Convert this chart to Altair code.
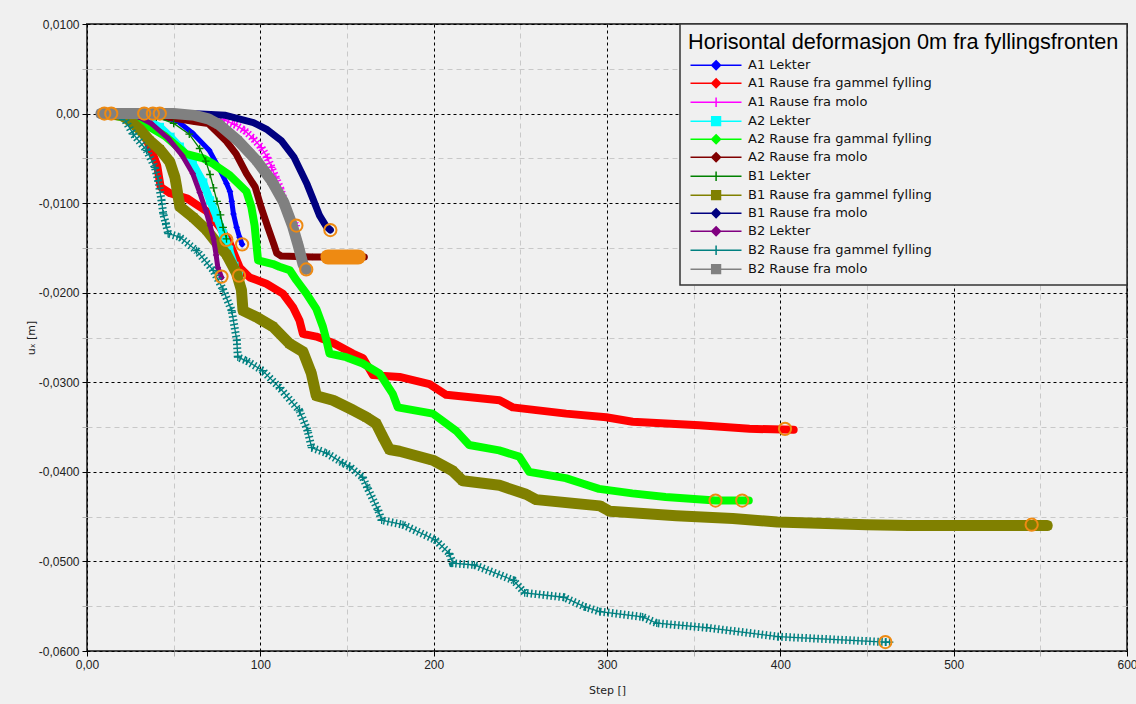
import altair as alt
import pandas as pd

# ---- measured horizontal displacement u_x [m] against calculation step ----
A1_LEKTER_STEP = [10, 25, 40, 52, 61, 70.5, 76.5, 80.5, 82.5, 83.5, 84.5, 86.3, 88, 89.5]
A1_LEKTER_UX = [0, 0, -0.0002, -0.0008, -0.0022, -0.0041, -0.0062, -0.0078, -0.0087, -0.0098, -0.0112, -0.0127, -0.0138, -0.0146]

A1_GAMMEL_STEP = [10, 20, 29.5, 34.5, 38, 40.5, 41.5, 42.5, 48, 58, 65, 69, 76.7, 82.4, 88.1, 93.9, 103.5, 113, 118.8,
                  122.6, 124.6, 132.3, 141.9, 153.4, 159.2, 165, 180.3, 197.6, 207.2, 238, 245.6, 276.4, 299.5, 314.8,
                  353.3, 382.2, 407.7]
A1_GAMMEL_UX = [0, -0.0002, -0.0013, -0.003, -0.0045, -0.0058, -0.007, -0.0082, -0.0089, -0.0095, -0.0104, -0.0109,
                -0.0127, -0.0145, -0.0172, -0.0183, -0.019, -0.0201, -0.0216, -0.0231, -0.0246, -0.0249, -0.0256,
                -0.0268, -0.0273, -0.0292, -0.0294, -0.0302, -0.0314, -0.032, -0.0328, -0.0335, -0.0339, -0.0344,
                -0.0348, -0.0352, -0.0353]

A1_MOLO_STEP = [10, 30, 60, 79, 85, 91, 96, 100.6, 104, 106.4, 109, 111.6, 113.5, 115, 117, 118.4, 120.6]
A1_MOLO_UX = [0, 0, -0.0001, -0.0007, -0.0012, -0.0019, -0.0028, -0.0038, -0.0049, -0.006, -0.0072, -0.0084, -0.0096,
              -0.0106, -0.0115, -0.0121, -0.0125]

A2_LEKTER_STEP = [10, 30, 42, 48, 53.5, 61, 67, 71, 75, 78.5, 82, 85, 87.5]
A2_LEKTER_UX = [0, -0.0003, -0.0015, -0.0026, -0.0037, -0.0056, -0.0077, -0.0097, -0.0116, -0.0134, -0.0152, -0.017,
                -0.0181]

A2_GAMMAL_STEP = [10, 30, 45, 57, 67, 72.7, 82.4, 92, 94.8, 96.7, 97.7, 98.7, 107.3, 111, 117, 120.8, 126.6, 132.3,
                  136.1, 138, 139.9, 149.5, 159.1, 168.7, 176.4, 179.3, 199.5, 212.9, 220.5, 237.8, 249.4, 255.1,
                  276.2, 285.8, 295.4, 314.6, 333.8, 362.6, 381.8]
A2_GAMMAL_UX = [0, -0.0008, -0.0025, -0.0045, -0.005, -0.0056, -0.0069, -0.0087, -0.0104, -0.0125, -0.0145, -0.0164,
                -0.0168, -0.0171, -0.0175, -0.0186, -0.0201, -0.0218, -0.0238, -0.0252, -0.0268, -0.0272, -0.0279,
                -0.029, -0.0313, -0.0328, -0.0335, -0.0354, -0.037, -0.0376, -0.0383, -0.04, -0.0407, -0.0413,
                -0.0419, -0.0424, -0.0428, -0.0432, -0.0432]

A2_MOLO_STEP = [10, 30, 50, 62, 70, 80, 86, 92, 97, 100.5, 104.5, 107.8, 109.5, 112, 130, 160]
A2_MOLO_UX = [0, 0, -0.0005, -0.0009, -0.0011, -0.003, -0.0045, -0.0067, -0.0082, -0.0105, -0.0128, -0.0146, -0.0156,
              -0.0159, -0.016, -0.016]

B1_LEKTER_STEP = [10, 25, 40, 50, 59, 65, 68.5, 71, 73, 75, 77, 78.5, 80.5]
B1_LEKTER_UX = [0, 0, -0.0004, -0.0011, -0.0023, -0.0039, -0.0053, -0.0068, -0.0083, -0.0098, -0.0113, -0.0127, -0.014]

B1_GAMMEL_STEP = [10, 20, 24.8, 30.6, 36, 42, 47.8, 50.7, 51.7, 52.6, 53.6, 61.3, 69, 76.7, 80.4, 86.2, 89.1, 90, 97.7,
                  107.3, 116.9, 124.6, 129.4, 132.3, 141.9, 153.4, 161.1, 166.8, 170.7, 174.5, 180.3, 199.5, 211,
                  216.8, 237.9, 253.3, 259.1, 295.9, 301.6, 340, 372.6, 398.2, 449.7, 474, 554]
B1_GAMMEL_UX = [0, -0.0002, -0.0008, -0.0018, -0.003, -0.004, -0.0054, -0.0071, -0.0082, -0.0093, -0.0104, -0.0116,
                -0.013, -0.0149, -0.0157, -0.0178, -0.0197, -0.022, -0.0227, -0.0238, -0.0257, -0.0266, -0.029,
                -0.0315, -0.032, -0.0331, -0.0339, -0.0346, -0.0361, -0.0375, -0.0377, -0.0387, -0.0399, -0.041,
                -0.0415, -0.0425, -0.0431, -0.0438, -0.0444, -0.0449, -0.0452, -0.0456, -0.0459, -0.046, -0.046]

B1_MOLO_STEP = [10, 40, 60, 80, 96, 104, 112, 119.5, 123.5, 127, 130.3, 134.2, 138, 140.4]
B1_MOLO_UX = [0, 0, 0, -0.0002, -0.001, -0.0018, -0.003, -0.0049, -0.0065, -0.0079, -0.0095, -0.0114, -0.0126, -0.013]

B2_LEKTER_STEP = [10, 20, 30, 37, 47, 55, 61, 65, 68.5, 71, 73, 74.5, 75.5, 77.6]
B2_LEKTER_UX = [0, 0, -0.0004, -0.0011, -0.0028, -0.0047, -0.0067, -0.0088, -0.0108, -0.0125, -0.014, -0.0158,
                -0.0172, -0.0183]

B2_GAMMEL_STEP = [10, 15, 20.9, 26.7, 34.4, 39.2, 41.1, 43, 44, 45.5, 46.8, 53.6, 63.2, 72.8, 78.4, 83.5, 86.4, 87,
                  92.1, 101.3, 111.1, 122.6, 127.3, 129.6, 138.2, 147.4, 151.5, 159, 161.6, 168, 170, 182.3, 201,
                  209, 211, 223.5, 246, 252.5, 275, 287.6, 295.8, 320.6, 328.7, 357.5, 398.8, 460.6, 463]
B2_GAMMEL_UX = [0, 0, -0.0004, -0.0023, -0.0041, -0.006, -0.0075, -0.0097, -0.0112, -0.0123, -0.0134, -0.0138,
                -0.0153, -0.0175, -0.0196, -0.022, -0.0253, -0.0272, -0.0276, -0.0287, -0.0306, -0.0332, -0.0354,
                -0.0373, -0.0379, -0.039, -0.0394, -0.0406, -0.0417, -0.0443, -0.0454, -0.0459, -0.0476, -0.0491,
                -0.0502, -0.0504, -0.0521, -0.0535, -0.054, -0.0551, -0.0556, -0.0562, -0.0569, -0.0574, -0.0584,
                -0.059, -0.059]

B2_MOLO_STEP = [8, 30, 50, 62, 70, 76, 87, 97.7, 106.5, 113.5, 118.5, 121.8, 124.6, 126.5]
B2_MOLO_UX = [0, 0, 0, -0.0002, -0.0006, -0.0012, -0.003, -0.0052, -0.0075, -0.0099, -0.0125, -0.0147, -0.0168, -0.0174]

# highlighted points (start / end of each record)
MARK_STEP = [10, 14, 33, 38, 42, 89.5, 402.7, 120.8, 87.7, 362.6, 378, 80.4, 545, 140.4, 77.6, 460.6, 126.5]
MARK_UX = [0, 0, 0, 0, 0, -0.0146, -0.0352, -0.0125, -0.0181, -0.0432, -0.0432, -0.0141, -0.0459, -0.013, -0.0182,
           -0.059, -0.0174]
# run of overlapping highlights on "A2 Rause fra molo"
RUN_START = [139]
RUN_END = [156.5]
RUN_UX = [-0.016]

SERIES_NAMES = ["A1 Lekter", "A1 Rause fra gammel fylling", "A1 Rause fra molo", "A2 Lekter",
                "A2 Rause fra gammal fylling", "A2 Rause fra molo", "B1 Lekter", "B1 Rause fra gammel fylling",
                "B1 Rause fra molo", "B2 Lekter", "B2 Rause fra gammel fylling", "B2 Rause fra molo"]
SERIES_STEPS = [A1_LEKTER_STEP, A1_GAMMEL_STEP, A1_MOLO_STEP, A2_LEKTER_STEP, A2_GAMMAL_STEP, A2_MOLO_STEP,
                B1_LEKTER_STEP, B1_GAMMEL_STEP, B1_MOLO_STEP, B2_LEKTER_STEP, B2_GAMMEL_STEP, B2_MOLO_STEP]
SERIES_UX = [A1_LEKTER_UX, A1_GAMMEL_UX, A1_MOLO_UX, A2_LEKTER_UX, A2_GAMMAL_UX, A2_MOLO_UX,
             B1_LEKTER_UX, B1_GAMMEL_UX, B1_MOLO_UX, B2_LEKTER_UX, B2_GAMMEL_UX, B2_MOLO_UX]

# ---- styling ----
COLORS = ["#0000ff", "#ff0000", "#ff00ff", "#00ffff", "#00ff00", "#800000",
          "#008000", "#808000", "#000080", "#800080", "#008080", "#808080"]
MARKERS = ["diamond", "diamond", "plus", "square", "diamond", "diamond",
           "plus", "square", "diamond", "diamond", "plus", "square"]
# width of the dense marker trail drawn under each line (0 = none)
TRAIL = [5, 8, 8, 8, 8, 7, 0, 11, 7, 5, 8, 11]
MARKER_SIZE = {"diamond": 45, "square": 70, "plus": 60}
ORANGE = "#ee8a12"
PLUS_PATH = "M-1,0H1M0,-1V1"
LEGEND_PATH = {
    "diamond": "M-1,0H11.75M5.4,-1.1L6.5,0L5.4,1.1L4.3,0Z",
    "square": "M-1,0H11.75M4.3,-1.1H6.5V1.1H4.3Z",
    "plus": "M-1,0H11.75M5.4,-1.2V1.2",
}
TICK_FONT = "Liberation Sans"
X_TICKS = [0, 50, 100, 150, 200, 250, 300, 350, 400, 450, 500, 550, 600]
Y_TICKS = [0.01, 0.005, 0, -0.005, -0.01, -0.015, -0.02, -0.025, -0.03, -0.035, -0.04, -0.045, -0.05, -0.055, -0.06]

x_major = "datum.value % 100 == 0"
y_major = "round(datum.value * 200) % 2 == 0"

x_axis = alt.Axis(
    values=X_TICKS, title="Step []", grid=True, domain=False, labelOverlap=False, labelFlush=False,
    labelExpr="datum.value % 100 != 0 ? '' : (datum.value == 0 ? '0,00' : format(datum.value, 'd'))",
    gridColor={"condition": {"test": x_major, "value": "#000000"}, "value": "#c8c8c8"},
    gridDash={"condition": {"test": x_major, "value": [3, 3]}, "value": [5, 4]},
    tickColor={"condition": {"test": x_major, "value": "#000000"}, "value": "#b0b0b0"},
    tickSize=5, labelFont=TICK_FONT, labelFontSize=12, labelColor="#222222", labelPadding=3,
    titleFont="DejaVu Sans", titleFontSize=11, titleFontWeight="normal", titleColor="#222222", titlePadding=14,
)
y_axis = alt.Axis(
    values=Y_TICKS, title="uₓ [m]", grid=True, domain=False, labelOverlap=False, labelFlush=False,
    labelExpr=("round(datum.value * 200) % 2 != 0 ? '' : (datum.value == 0 ? '0,00' : "
               "(datum.value < 0 ? '-' : '') + replace(format(abs(datum.value), '.4f'), '.', ','))"),
    gridColor={"condition": {"test": y_major, "value": "#000000"}, "value": "#c8c8c8"},
    gridDash={"condition": {"test": y_major, "value": [3, 3]}, "value": [5, 4]},
    tickColor={"condition": {"test": y_major, "value": "#000000"}, "value": "#b0b0b0"},
    tickSize=5, labelFont=TICK_FONT, labelFontSize=12, labelColor="#222222", labelPadding=3,
    titleFont="DejaVu Sans", titleFontSize=11, titleFontWeight="normal", titleColor="#222222", titlePadding=2,
)
x_scale = alt.Scale(domain=[0, 600], nice=False, zero=False)
y_scale = alt.Scale(domain=[-0.06, 0.01], nice=False, zero=False)


def xy(xfield="step", yfield="ux"):
    return dict(x=alt.X(f"{xfield}:Q", scale=x_scale, axis=x_axis),
                y=alt.Y(f"{yfield}:Q", scale=y_scale, axis=y_axis))


layers = []
for name, steps, ux, color, marker, trail in zip(SERIES_NAMES, SERIES_STEPS, SERIES_UX, COLORS, MARKERS, TRAIL):
    base = alt.Chart(pd.DataFrame({"step": steps, "ux": ux})).encode(**xy())
    if trail:
        if marker == "plus":
            layers.append(base.mark_line(color=color, strokeWidth=trail, strokeDash=[1.5, 2.5]))
        else:
            layers.append(base.mark_line(color=color, strokeWidth=trail, strokeJoin="round", strokeCap="round"))
    layers.append(base.mark_line(color=color, strokeWidth=1.3))
    if marker == "plus":
        layers.append(base.mark_point(shape=PLUS_PATH, filled=False, color=color, size=MARKER_SIZE[marker],
                                      strokeWidth=1.3, opacity=1))
    else:
        layers.append(base.mark_point(shape=marker, filled=True, color=color, size=MARKER_SIZE[marker], opacity=1))

# orange highlight rings
layers.append(
    alt.Chart(pd.DataFrame({"step": MARK_STEP, "ux": MARK_UX}))
    .mark_point(shape="circle", filled=False, color=ORANGE, size=150, strokeWidth=2, opacity=1)
    .encode(**xy())
)
layers.append(
    alt.Chart(pd.DataFrame({"start": RUN_START, "end": RUN_END, "ux": RUN_UX}))
    .mark_rule(color=ORANGE, strokeWidth=15, strokeCap="round")
    .encode(**xy("start"), x2="end:Q")
)

# legend driven by an invisible layer
legend = alt.Legend(
    title="Horisontal deformasjon 0m fra fyllingsfronten", orient="top-right", offset=0,
    fillColor="#f0f0f0", strokeColor="#333333", padding=8,
    titleFont="Liberation Sans", titleFontSize=21.7, titleFontWeight="normal", titleColor="#000000",
    titleLimit=700, titlePadding=5,
    labelFont="DejaVu Sans", labelFontSize=13, labelColor="#111111", labelLimit=400, labelOffset=47,
    symbolSize=64, symbolStrokeWidth=1.5, symbolOpacity=1, rowPadding=3,
)
legend_df = pd.DataFrame({"series": SERIES_NAMES, "step": [s[0] for s in SERIES_STEPS],
                          "ux": [u[0] for u in SERIES_UX]})
layers.append(
    alt.Chart(legend_df).mark_point(filled=True, opacity=0).encode(
        **xy(),
        fill=alt.Fill("series:N", scale=alt.Scale(domain=SERIES_NAMES, range=COLORS), legend=legend),
        stroke=alt.Stroke("series:N", scale=alt.Scale(domain=SERIES_NAMES, range=COLORS), legend=legend),
        shape=alt.Shape("series:N", scale=alt.Scale(domain=SERIES_NAMES,
                                                     range=[LEGEND_PATH[m] for m in MARKERS]), legend=legend),
    )
)

chart = (
    alt.layer(*layers)
    .properties(width=1040, height=627, autosize="none", background="#f0f0f0",
                padding={"left": 87, "top": 24, "right": 9, "bottom": 53})
    .configure_view(stroke="#4a4a4a", strokeWidth=2, fill="#f0f0f0")
    .configure_legend(strokeWidth=1.5)
)

chart.save("out.html", embed_options={"renderer": "svg", "actions": False})
